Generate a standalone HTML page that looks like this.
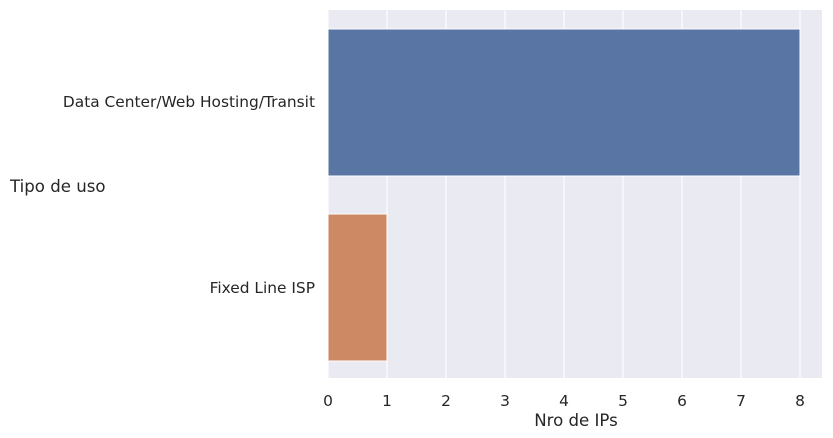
<!DOCTYPE html>
<html><head><meta charset="utf-8"><style>
html,body{margin:0;padding:0;background:#fff;}
svg{display:block;font-family:"DejaVu Sans","Liberation Sans",sans-serif;}
</style></head><body>
<svg width="833" height="438" viewBox="0 0 833 438" xmlns="http://www.w3.org/2000/svg">
<rect x="328" y="10" width="494" height="368" fill="#eaeaf2"/>
<g stroke="#fff" stroke-width="1.2">
<line x1="328" y1="10" x2="328" y2="378"/>
<line x1="387" y1="10" x2="387" y2="378"/>
<line x1="446" y1="10" x2="446" y2="378"/>
<line x1="505" y1="10" x2="505" y2="378"/>
<line x1="564" y1="10" x2="564" y2="378"/>
<line x1="623" y1="10" x2="623" y2="378"/>
<line x1="682" y1="10" x2="682" y2="378"/>
<line x1="741" y1="10" x2="741" y2="378"/>
<line x1="800" y1="10" x2="800" y2="378"/>
</g>
<rect x="328" y="29" width="472" height="147" fill="#5975a4" stroke="#fff" stroke-width="1"/>
<rect x="328" y="214" width="59" height="147" fill="#cc8963" stroke="#fff" stroke-width="1"/>
<g font-size="15.4" fill="#262626" text-anchor="middle">
<text x="328" y="406">0</text><text x="387" y="406">1</text><text x="446" y="406">2</text>
<text x="505" y="406">3</text><text x="564" y="406">4</text><text x="623" y="406">5</text>
<text x="682" y="406">6</text><text x="741" y="406">7</text><text x="800" y="406">8</text>
<text x="576" y="426" font-size="16.6">Nro de IPs</text>
</g>
<g font-size="15.4" fill="#262626" text-anchor="end">
<text x="315" y="107">Data Center/Web Hosting/Transit</text>
<text x="315" y="293">Fixed Line ISP</text>
</g>
<text x="10" y="192" font-size="16.6" fill="#262626">Tipo de uso</text>
</svg>
</body></html>
